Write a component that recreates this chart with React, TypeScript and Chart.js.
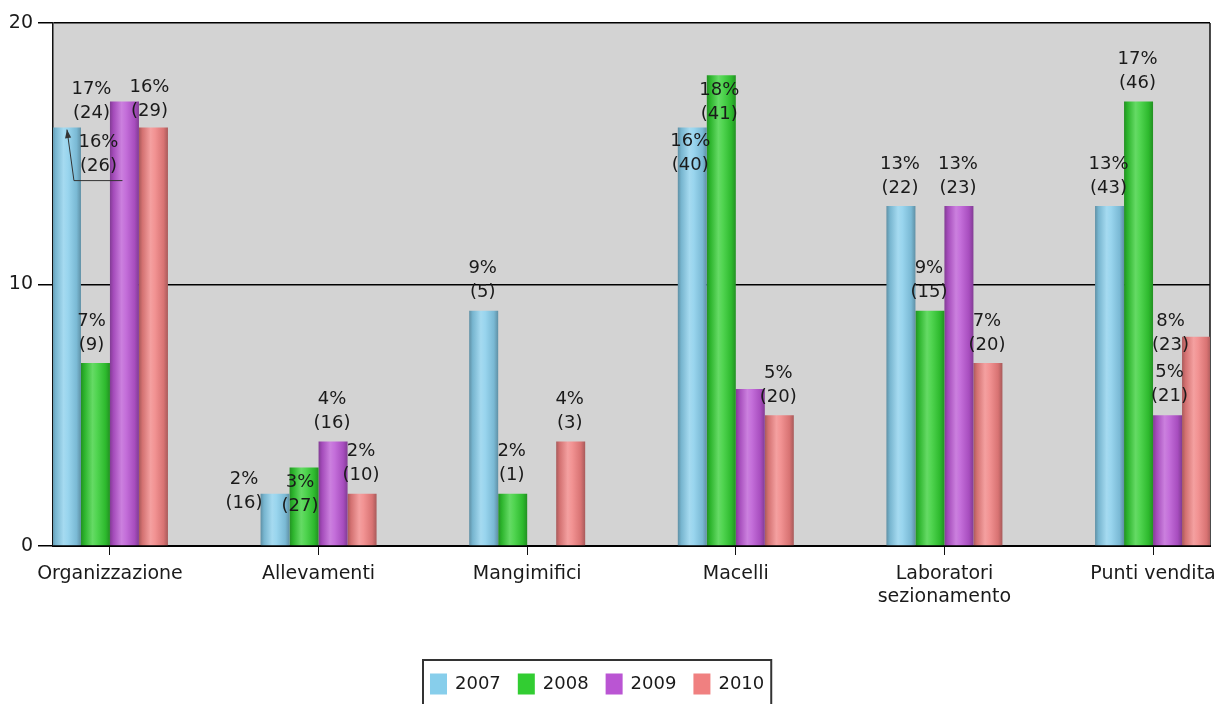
import React, { useEffect, useRef } from "react";
import { Chart, registerables } from "chart.js";

Chart.register(...registerables);

// ---------------- data ----------------
const categories = [
  "Organizzazione",
  "Allevamenti",
  "Mangimifici",
  "Macelli",
  "Laboratori\nsezionamento",
  "Punti vendita",
];
const years = ["2007", "2008", "2009", "2010"];

const pct2007 = [16, 2, 9, 16, 13, 13];
const pct2008 = [7, 3, 2, 18, 9, 17];
const pct2009 = [17, 4, 0, 6, 13, 5];
const pct2010 = [16, 2, 4, 5, 7, 8];

const count2007: (number | null)[] = [26, 16, 5, 40, 22, 43];
const count2008: (number | null)[] = [9, 27, 1, 41, 15, 46];
const count2009: (number | null)[] = [24, 16, null, null, 23, 21];
const count2010: (number | null)[] = [29, 10, 3, 20, 20, 23];

const yTicks = [0, 10, 20];

const seriesValues = [pct2007, pct2008, pct2009, pct2010];
const seriesCounts = [count2007, count2008, count2009, count2010];
const seriesColors = ["#87CEEB", "#32CD32", "#BA55D3", "#F08080"];

// ---------------- layout / style ----------------
const FONT = "DejaVu Sans";
const CAT_PCT = 0.556;
const X_PAD = 0.273;

// label nudges (dx, dy of first line relative to bar centre / bar top)
const DEFAULT_NUDGE = { dx: -1, dy: -42 };
const NUDGES: Record<string, { dx: number; dy: number; arrow?: boolean }> = {
  "0-0": { dx: 32, dy: 15, arrow: true },
  "0-1": { dx: -31, dy: -14 },
  "0-3": { dx: -2, dy: 14 },
  "1-0": { dx: -4, dy: -42 },
  "1-1": { dx: -4, dy: 15 },
  "1-3": { dx: -2, dy: 15 },
  "2-0": { dx: -33, dy: -12 },
  "2-5": { dx: 2, dy: -43 },
  "3-0": { dx: -4, dy: -40 },
  "3-5": { dx: -26, dy: -15 },
};

function mix(hex: string, target: number, t: number) {
  const n = parseInt(hex.slice(1), 16);
  const r = (n >> 16) & 255, g = (n >> 8) & 255, b = n & 255;
  const f = (c: number) => Math.round(c + (target - c) * t);
  return `rgb(${f(r)},${f(g)},${f(b)})`;
}

function cylinder(base: string) {
  return (ctx: any) => {
    const chart = ctx.chart;
    const xs = chart.scales && chart.scales.x;
    if (!xs || ctx.type !== "data" || !chart.chartArea) return base;
    const i = ctx.dataIndex;
    const d = ctx.datasetIndex;
    const step = xs.getPixelForValue(1) - xs.getPixelForValue(0);
    const group = step * CAT_PCT;
    const w = group / 4;
    const left = xs.getPixelForValue(i) - group / 2 + d * w;
    const g = chart.ctx.createLinearGradient(left, 0, left + w, 0);
    g.addColorStop(0, mix(base, 0, 0.3));
    g.addColorStop(0.12, mix(base, 0, 0.12));
    g.addColorStop(0.4, mix(base, 255, 0.25));
    g.addColorStop(0.55, mix(base, 255, 0.15));
    g.addColorStop(0.85, mix(base, 0, 0.1));
    g.addColorStop(1, mix(base, 0, 0.3));
    return g;
  };
}

const framePlugin = {
  id: "frame",
  beforeDraw(chart: any) {
    const { ctx, chartArea: a } = chart;
    ctx.save();
    ctx.fillStyle = "#D3D3D3";
    ctx.fillRect(a.left, a.top, a.right - a.left, a.bottom - a.top);
    ctx.restore();
  },
  beforeDatasetsDraw(chart: any) {
    const { ctx, chartArea: a } = chart;
    ctx.save();
    ctx.strokeStyle = "#111";
    ctx.lineWidth = 1.5;
    ctx.beginPath();
    ctx.moveTo(a.right, a.top);
    ctx.lineTo(a.right, a.bottom);
    ctx.stroke();
    ctx.restore();
  },
};

const labelPlugin = {
  id: "barLabels",
  afterDatasetsDraw(chart: any) {
    const ctx = chart.ctx;
    ctx.save();
    ctx.font = `18px "${FONT}"`;
    ctx.fillStyle = "#1a1a1a";
    ctx.textAlign = "center";
    ctx.textBaseline = "middle";
    seriesValues.forEach((vals, d) => {
      const meta = chart.getDatasetMeta(d);
      vals.forEach((v, i) => {
        const c = seriesCounts[d][i];
        if (!v || c === null || c === undefined) return;
        const el = meta.data[i];
        const n = NUDGES[`${d}-${i}`] || DEFAULT_NUDGE;
        const x = el.x + n.dx;
        const y = el.y + n.dy;
        ctx.fillText(`${v}%`, x, y);
        ctx.fillText(`(${c})`, x, y + 24);
        if ((n as any).arrow) {
          ctx.save();
          ctx.strokeStyle = "#333";
          ctx.fillStyle = "#333";
          ctx.lineWidth = 1;
          const bx = el.x + 0.5, by = el.y + 2;
          const kx = el.x + 7.5, ky = el.y + 53;
          ctx.beginPath();
          ctx.moveTo(el.x + 56, ky);
          ctx.lineTo(kx, ky);
          ctx.lineTo(bx, by);
          ctx.stroke();
          const ang = Math.atan2(by - ky, bx - kx);
          ctx.beginPath();
          ctx.moveTo(bx, by);
          ctx.lineTo(bx - 9 * Math.cos(ang - 0.35), by - 9 * Math.sin(ang - 0.35));
          ctx.lineTo(bx - 9 * Math.cos(ang + 0.35), by - 9 * Math.sin(ang + 0.35));
          ctx.closePath();
          ctx.fill();
          ctx.restore();
        }
      });
    });
    ctx.restore();
  },
};

const legendPlugin = {
  id: "boxLegend",
  afterDraw(chart: any) {
    const ctx = chart.ctx;
    ctx.save();
    ctx.font = `18px "${FONT}"`;
    const sw = 17, sh = 21, gap = 8, spacing = 17, padX = 7;
    const widths = years.map((y) => sw + gap + ctx.measureText(y).width);
    const total = widths.reduce((s, w) => s + w, 0) + spacing * (years.length - 1) + padX * 2;
    const cx = 597;
    const left = Math.round(cx - total / 2);
    const top = 660;
    const cy = 684;
    ctx.strokeStyle = "#333";
    ctx.lineWidth = 2;
    ctx.strokeRect(left, top, total, 60);
    let x = left + padX;
    years.forEach((y, k) => {
      ctx.fillStyle = seriesColors[k];
      ctx.fillRect(x, cy - sh / 2, sw, sh);
      ctx.fillStyle = "#1a1a1a";
      ctx.textAlign = "left";
      ctx.textBaseline = "middle";
      ctx.fillText(y, x + sw + gap, cy);
      x += widths[k] + spacing;
    });
    ctx.restore();
  },
};

export default function App() {
  const ref = useRef<HTMLCanvasElement | null>(null);
  useEffect(() => {
    if (!ref.current) return;
    const chart = new Chart(ref.current, {
      type: "bar",
      data: {
        datasets: years.map((y, d) => ({
          label: y,
          data: seriesValues[d].map((v, i) => ({ x: i, y: v })),
          backgroundColor: cylinder(seriesColors[d]),
          borderWidth: 0,
          categoryPercentage: CAT_PCT,
          barPercentage: 1,
        })),
      },
      options: {
        responsive: false,
        animation: false,
        layout: { padding: { top: 23, right: 6, left: 0, bottom: 0 } },
        plugins: {
          legend: { display: false },
          tooltip: { enabled: false },
        },
        scales: {
          x: {
            type: "linear",
            min: -X_PAD,
            max: categories.length - 1 + X_PAD,
            offset: false,
            afterBuildTicks: (scale: any) => {
              scale.ticks = categories.map((_, i) => ({ value: i }));
            },
            afterFit: (scale: any) => {
              scale.height = 704 - 546;
              scale.paddingLeft = 0;
              scale.paddingRight = 0;
            },
            ticks: {
              autoSkip: false,
              maxRotation: 0,
              padding: 8,
              color: "#1a1a1a",
              font: { family: FONT, size: 19 },
              callback: (v: any) => {
                const s = categories[Math.round(v)];
                return s && s.includes("\n") ? s.split("\n") : s;
              },
            },
            grid: {
              offset: false,
              drawOnChartArea: false,
              drawTicks: true,
              tickLength: 9,
              color: "#111",
            },
            border: { display: true, color: "#000", width: 2 },
          },
          y: {
            min: 0,
            max: 20,
            afterBuildTicks: (scale: any) => {
              scale.ticks = yTicks.map((v) => ({ value: v }));
            },
            afterFit: (scale: any) => {
              scale.width = 53;
              scale.paddingTop = 0;
              scale.paddingBottom = 0;
            },
            ticks: {
              padding: 5,
              color: "#1a1a1a",
              font: { family: FONT, size: 19 },
            },
            grid: {
              color: "#000",
              lineWidth: 1.5,
              tickLength: 15,
              drawTicks: true,
            },
            border: { display: true, color: "#111", width: 1.5 },
          },
        },
      },
      plugins: [framePlugin, labelPlugin, legendPlugin],
    } as any);
    return () => chart.destroy();
  }, []);
  return (
    <div style={{ position: "absolute", left: 0, top: 0, width: 1216, height: 704, background: "#fff" }}>
      <canvas ref={ref} width={1216} height={704} style={{ display: "block" }} />
    </div>
  );
}
